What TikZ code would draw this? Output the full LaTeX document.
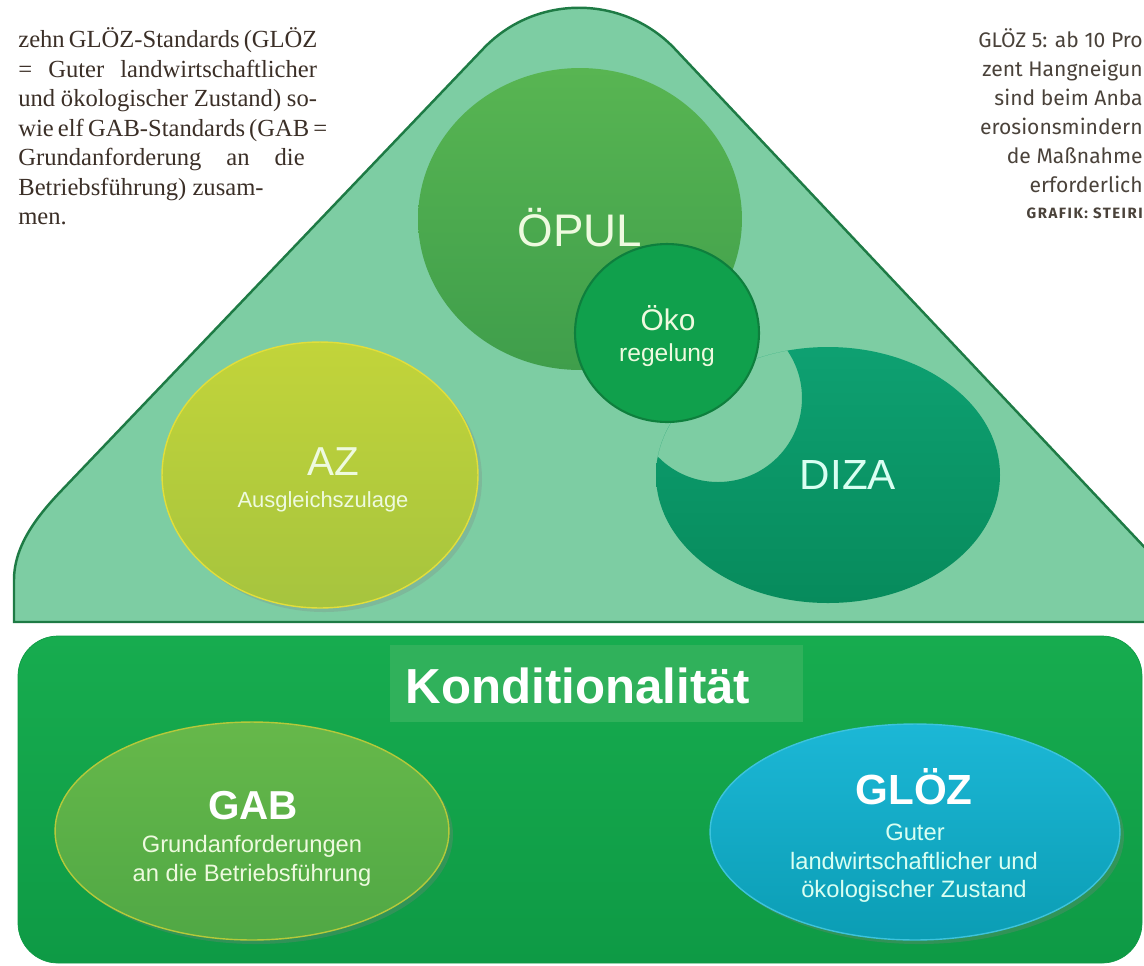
\documentclass[tikz,border=0pt]{standalone}
\usepackage{fontspec}
\setmainfont{Liberation Serif}
\newfontfamily\arialf{Liberation Sans}
\newfontfamily\firaf{Fira Sans}
\newfontfamily\firacaps[LetterSpace=10]{Fira Sans}
\usetikzlibrary{shapes.geometric}
\usetikzlibrary{shadows}
\definecolor{triFill}{HTML}{7DCDA3}
\definecolor{triEdge}{HTML}{1E7B45}
\definecolor{opulTop}{HTML}{58B552}
\definecolor{opulBot}{HTML}{3F9E4B}
\definecolor{okoFill}{HTML}{10A04C}
\definecolor{okoEdge}{HTML}{0E7F3D}
\definecolor{azTop}{HTML}{C2D43A}
\definecolor{azBot}{HTML}{A6C43E}
\definecolor{azEdge}{HTML}{E2DE3A}
\definecolor{dizaTop}{HTML}{0FA374}
\definecolor{dizaBot}{HTML}{078B5C}
\definecolor{baseTop}{HTML}{17AC4F}
\definecolor{baseBot}{HTML}{0E9A45}
\definecolor{kondBox}{HTML}{30B15B}
\definecolor{gabTop}{HTML}{66B84A}
\definecolor{gabBot}{HTML}{50A845}
\definecolor{gabEdge}{HTML}{B5C93A}
\definecolor{glozTop}{HTML}{1CB7D6}
\definecolor{glozBot}{HTML}{0B9DB4}
\definecolor{glozEdge}{HTML}{3CC3DC}
\definecolor{paleTxt}{HTML}{EEFADF}
\definecolor{dizaTxt}{HTML}{D9FFF2}
\definecolor{inkBrown}{HTML}{3B2F27}
\definecolor{inkGray}{HTML}{4A423A}

\begin{document}
\begin{tikzpicture}[x=0.02cm, y=-0.02cm,
blob/.style = {ellipse, inner sep=0pt, outer sep=0pt},
lbl/.style = {inner sep=0pt, text=#1},
lbl/.default = paleTxt,
col/.style = {anchor=base west, inner sep=0pt, text=inkBrown,
            font=\fontsize{14}{16}\selectfont},
side/.style = {anchor=base east, inner sep=0pt, text=inkGray,
            font=\firaf\fontsize{12}{14}\selectfont}
                ]
    \useasboundingbox (0,0) rectangle (1144,965);
    \clip (0,0) rectangle (1144,965);

    % text columns
    \foreach \y/\w/\t [count=\i] in {47/170/{zehn GLÖZ-Standards (GLÖZ},
            77/170/{= Guter landwirtschaftlicher}, 106/170/{und ökologischer Zustand) so-},
            136/170/{wie elf GAB-Standards (GAB =}, 165/163/{Grundanforderung an die}}
        \node[col] (left\i) at (18,\y) {\makebox[\w pt][s]{\t}};
    \node[col] (left6) at (18,195) {Betriebsführung) zusam-};
    \node[col] (left7) at (18,224) {men.};
    \foreach \y/\t [count=\i] in {47/{GLÖZ 5: ab 10 Pro}, 76/{zent Hangneigun},
            105/{sind beim Anba}, 134/{erosionsmindern},
            163/{de Maßnahme}, 192/{erforderlich}}
        \node[side] (right\i) at (1143,\y) {\t};
    \node[side, font=\firacaps\bfseries\fontsize{8.5}{10}\selectfont] (credit) at (1143,218) {GRAFIK: STEIRI};

    % triangle
    \draw[line width=1.4pt, draw=triEdge, fill=triFill] (14,622) -- (14,580)
        .. controls (14,545) and (38,515) .. (62,490) -- (483,49)
        .. controls (535,-6) and (623,-6) .. (675,49) -- (1215,622) -- cycle;

    \node[blob, minimum width=6.32cm, minimum height=5.32cm, top color=azTop, bottom color=azBot,
          draw=azEdge, line width=0.8pt, drop shadow={opacity=0.25}] (az) at (320,475) {};
    \node[lbl, font=\arialf\fontsize{23}{25}\selectfont] (azT) at (333,462) {AZ};
    \node[lbl, font=\arialf\fontsize{12.5}{14}\selectfont] (azS) at (323,502) {Ausgleichszulage};

    \node[blob, minimum width=6.48cm, minimum height=6.04cm, top color=opulTop, bottom color=opulBot] (opul) at (580,219) {};
    \node[lbl, font=\arialf\fontsize{26}{28}\selectfont] (opulT) at (580,228) {ÖPUL};

    \begin{scope}
        \clip (828,475) ellipse [x radius=172, y radius=128];
        \shade[even odd rule, top color=dizaTop, bottom color=dizaBot]
            (828,475) ellipse [x radius=172, y radius=128] (718,398) circle [radius=84];
    \end{scope}
    \coordinate (diza) at (828,475);
    \node[lbl=dizaTxt, font=\arialf\fontsize{24}{26}\selectfont] (dizaT) at (848,475) {DIZA};

    \node[blob, minimum width=3.68cm, minimum height=3.56cm, fill=okoFill, draw=okoEdge, line width=1.2pt] (oko) at (667,333) {};
    \node[lbl, font=\arialf\fontsize{17}{19}\selectfont] (okoT) at (668,318) {Öko};
    \node[lbl, font=\arialf\fontsize{14}{16}\selectfont] (okoS) at (667,355) {regelung};

    % Konditionalitaet
    \draw[rounded corners=0.8cm, top color=baseTop, bottom color=baseBot, draw=baseBot] (18,636) rectangle (1142,963);
    \node[fill=kondBox, minimum width=8.26cm, minimum height=1.54cm, inner sep=0pt] (kbox) at (596.5,683.5) {};
    \node[lbl=white, font=\arialf\bfseries\fontsize{28}{30}\selectfont] (kond) at (578,686) {Konditionalität};

    \node[blob, minimum width=7.88cm, minimum height=4.36cm, top color=gabTop, bottom color=gabBot,
          draw=gabEdge, line width=0.8pt, drop shadow={opacity=0.3}] (gab) at (252,831) {};
    \node[lbl=white, font=\arialf\bfseries\fontsize{23}{25}\selectfont] (gabT) at (253,806) {GAB};
    \node[lbl, font=\arialf\fontsize{13.5}{15}\selectfont] (gabS1) at (252,846) {Grundanforderungen};
    \node[lbl, font=\arialf\fontsize{13.5}{15}\selectfont] (gabS2) at (252,875) {an die Betriebsführung};

    \node[blob, minimum width=8.2cm, minimum height=4.32cm, top color=glozTop, bottom color=glozBot,
          draw=glozEdge, line width=0.8pt, drop shadow={opacity=0.3}] (gloz) at (915,832) {};
    \node[lbl=white, font=\arialf\bfseries\fontsize{24}{26}\selectfont] (glozT) at (914,787) {GLÖZ};
    \node[lbl=dizaTxt, font=\arialf\fontsize{13.5}{15}\selectfont] (glozS1) at (915,832) {Guter};
    \node[lbl=dizaTxt, font=\arialf\fontsize{13.5}{15}\selectfont] (glozS2) at (914,861) {landwirtschaftlicher und};
    \node[lbl=dizaTxt, font=\arialf\fontsize{13.5}{15}\selectfont] (glozS3) at (914,891) {ökologischer Zustand};
\end{tikzpicture}
\end{document}
